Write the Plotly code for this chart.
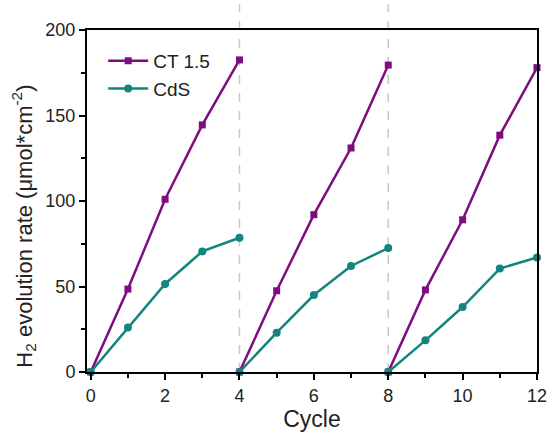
import plotly.graph_objects as go

cycle = [0, 1, 2, 3, 4, None, 4, 5, 6, 7, 8, None, 8, 9, 10, 11, 12]
ct15 = [0, 48.5, 101, 144.5, 182.5, None, 0, 47.5, 92, 131, 179.5, None, 0, 48, 89, 138.5, 178]
cds = [0, 26, 51.5, 70.5, 78.5, None, 0, 23, 45, 62, 72.5, None, 0, 18.5, 38, 60.5, 67]
x_ticks = [0, 2, 4, 6, 8, 10, 12]
y_ticks = [0, 50, 100, 150, 200]
dividers = [4, 8]

purple = "#7E0D80"
teal = "#12857E"

fig = go.Figure()
fig.add_trace(go.Scatter(x=cycle, y=ct15, mode="lines+markers", name="CT 1.5",
                         line=dict(color=purple, width=2.5),
                         marker=dict(symbol="square", size=7, color=purple),
                         connectgaps=False, cliponaxis=False))
fig.add_trace(go.Scatter(x=cycle, y=cds, mode="lines+markers", name="CdS",
                         line=dict(color=teal, width=2.5),
                         marker=dict(symbol="circle", size=8, color=teal),
                         connectgaps=False, cliponaxis=False))

for d in dividers:
    fig.add_shape(type="line", xref="x", yref="paper", x0=d, x1=d, y0=0, y1=1.075,
                  line=dict(color="#C8C8C8", width=1.5, dash="dash"), layer="below")

font = "Liberation Sans, Arial, sans-serif"
fig.add_annotation(text="H<sub>2</sub> evolution rate (μmol*cm<sup>-2</sup>)",
                   xref="paper", yref="paper", x=-0.14, y=0.425,
                   xanchor="center", yanchor="middle", textangle=-90,
                   showarrow=False, font=dict(size=22, family=font, color="#222"))

fig.update_layout(
    width=549, height=432,
    margin=dict(l=87, r=12, t=30, b=60, autoexpand=False),
    plot_bgcolor="white", paper_bgcolor="white",
    font=dict(family=font, color="#222", size=18),
    showlegend=True,
    legend=dict(x=0.036, y=0.965, xanchor="left", yanchor="top",
                bgcolor="rgba(0,0,0,0)", font=dict(size=19, family=font),
                tracegroupgap=0, itemwidth=40),
    xaxis=dict(range=[-0.1, 12], tickvals=x_ticks, showgrid=False, zeroline=False,
               showline=True, linecolor="black", linewidth=2, mirror=True,
               ticks="outside", ticklen=6, tickwidth=2, tickcolor="black",
               minor=dict(dtick=1, ticks="outside", ticklen=4, tickwidth=2, tickcolor="black"),
               tickfont=dict(size=18), automargin=False,
               title=dict(text="Cycle", font=dict(size=23), standoff=4)),
    yaxis=dict(range=[0, 200], tickvals=y_ticks, showgrid=False, zeroline=False,
               showline=True, linecolor="black", linewidth=2, mirror=True,
               ticks="outside", ticklen=6, tickwidth=2, tickcolor="black",
               minor=dict(dtick=25, ticks="outside", ticklen=4, tickwidth=2, tickcolor="black"),
               tickfont=dict(size=18), automargin=False),
)

fig.write_html("out.html")
